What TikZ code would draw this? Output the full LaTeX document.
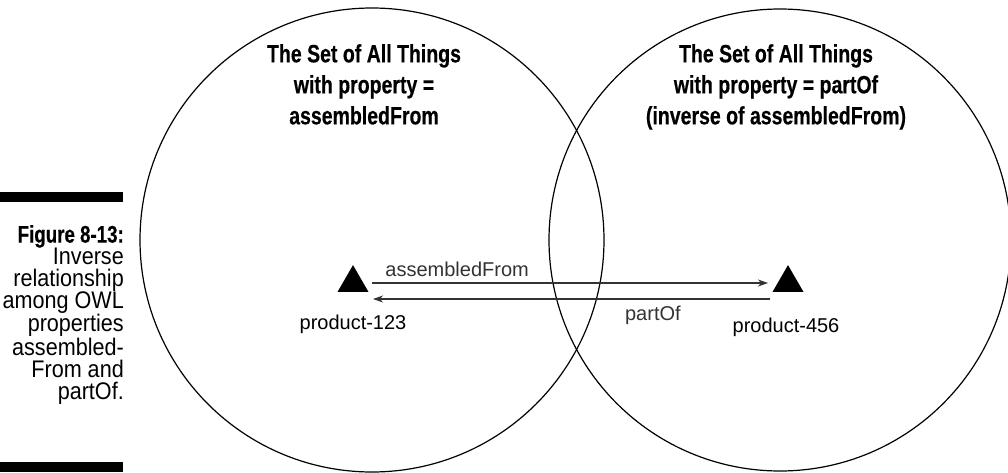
\documentclass[tikz,border=0pt]{standalone}
\usepackage{fontspec}
\setmainfont{Liberation Sans}
\newfontfamily\condfont{Liberation Sans}[FakeStretch=0.78, FakeBold=0.4]
\newfontfamily\narrowfont{Liberation Sans}[FakeStretch=0.9]
\usetikzlibrary{positioning, arrows.meta, calc, shapes.geometric}

\begin{document}
\begin{tikzpicture}[
    x=1pt, y=-1pt,
    setring/.style  = {draw, circle, line width=1.2pt, inner sep=0pt},
    settitle/.style = {align=center, inner sep=0pt, anchor=north,
                       font=\condfont\bfseries\fontsize{25}{31}\selectfont},
    thing/.style    = {regular polygon, regular polygon sides=3, fill=black,
                       minimum size=35.8pt, inner sep=0pt},
    thinglabel/.style = {anchor=base, inner sep=0pt, font=\fontsize{20}{24}\selectfont},
    rel/.style      = {-{Stealth[length=10pt, width=7pt, inset=3pt]},
                       line width=1.1pt, black!80},
    rellabel/.style = {anchor=base, inner sep=0pt, font=\fontsize{20}{24}\selectfont},
    bar/.style      = {fill=black}
]
\useasboundingbox (0,0) rectangle (1008,473);

% Caption at the left
\fill[bar] (0,192) rectangle (123,202);
\node[anchor=north east, align=right, inner sep=0pt,
      font=\narrowfont\fontsize{24}{22}\selectfont] (caption) at (124,225)
    {{\condfont\bfseries Figure 8-13:}\\ Inverse\\ relationship\\ among OWL\\
     properties\\ assembled-\\ From and\\ partOf.};
\fill[bar] (0,462) rectangle (123,472);

% The two sets
\node[setring, minimum size=464pt] (setA) at (372,240) {};
\node[setring, minimum size=462pt] (setB) at (780,240) {};

% Titles of the sets
\node[settitle] (titleA) at (364,44)
    {The Set of All Things\\ with property =\\ assembledFrom};
\node[settitle] (titleB) at (776,44)
    {The Set of All Things\\ with property = partOf\\ (inverse of assembledFrom)};

% Things
\node[thing] (p123) at (353,283) {};
\node[thing] (p456) at (788,283) {};
\node[thinglabel] (l123) at ($(p123.center)+(0,46)$) {product-123};
\node[thinglabel] (l456) at ($(p456.center)+(-2,49)$) {product-456};

% Relations between the things
\draw[rel] ($(p123.center)+(19,0)$) -- ($(p456.center)+(-20,0)$)
    node[rellabel, pos=0.215, yshift=7pt] (afrom) {assembledFrom};
\draw[rel] ($(p456.center)+(-18,16)$) -- ($(p123.center)+(20,16)$)
    node[rellabel, pos=0.295, yshift=-21pt] (pof) {partOf};

\end{tikzpicture}
\end{document}
